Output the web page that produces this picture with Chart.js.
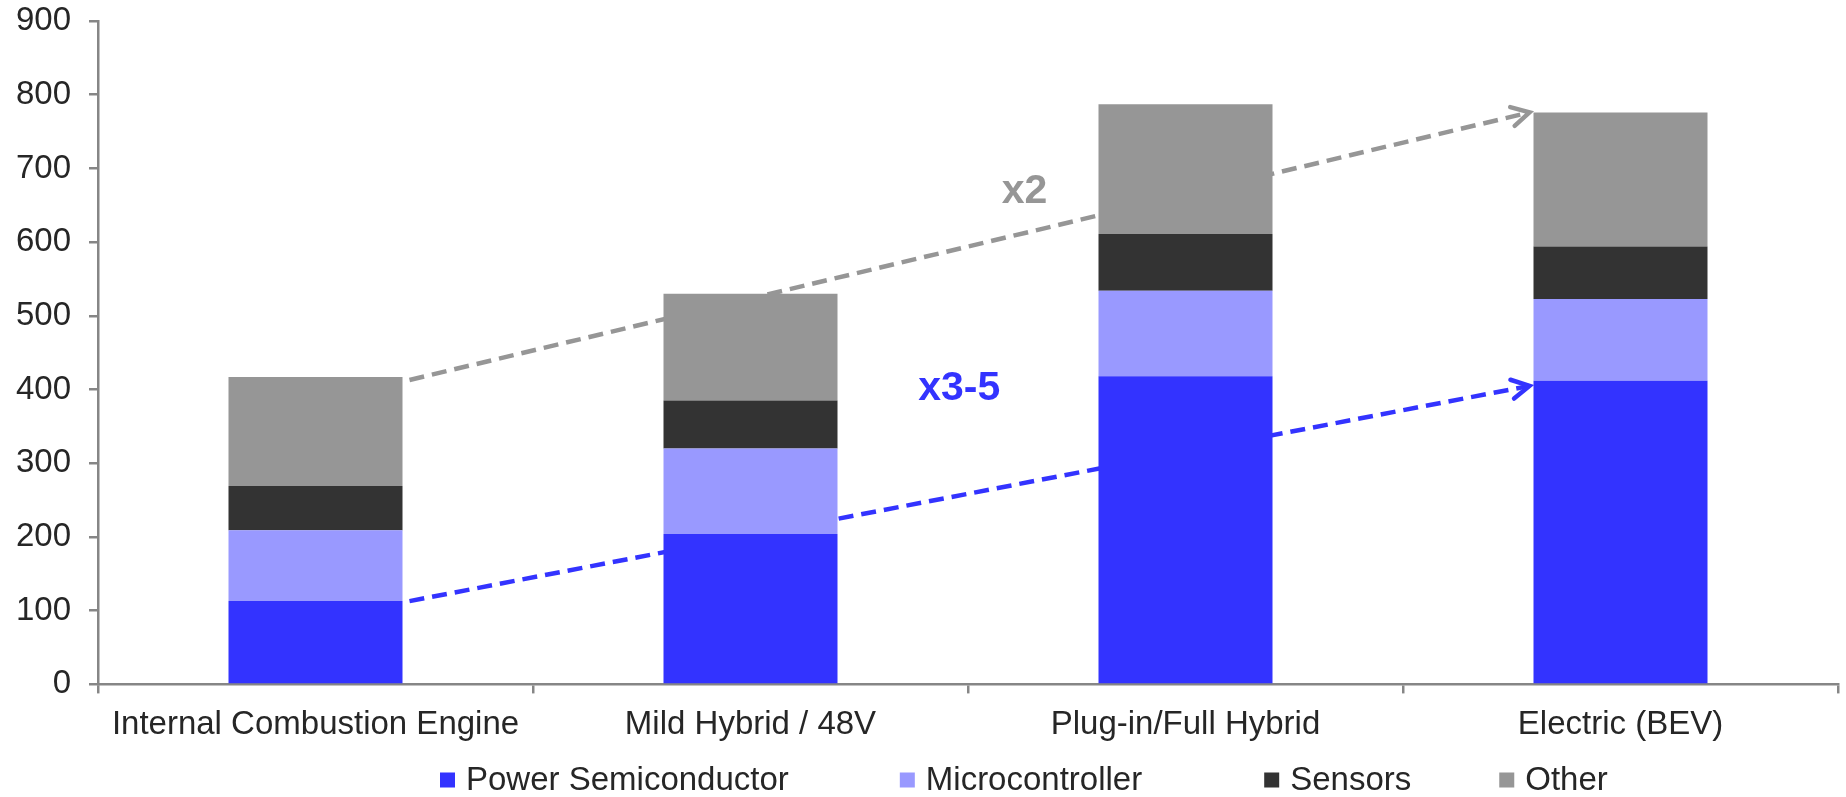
<!DOCTYPE html>
<html lang="en">
<head>
    <meta charset="UTF-8">
    <title>Semiconductor content per vehicle</title>
    <script src="https://cdn.jsdelivr.net/npm/chart.js@4.4.1/dist/chart.umd.min.js"></script>
    <style>
        body { margin: 0; background: #fff; }
        #wrap { width: 1846px; height: 797px; position: relative; }
    </style>
</head>
<body>
    <div id="wrap"><canvas id="chart"></canvas></div>

    <script>
        // values ($ per car, stacked)
        const categories = ['Internal Combustion Engine', 'Mild Hybrid / 48V', 'Plug-in/Full Hybrid', 'Electric (BEV)']
        const powerSemi = [113, 204, 418, 412]
        const microcontroller = [96, 116, 116, 111]
        const sensors = [60, 65, 77, 71]
        const other = [148, 145, 176, 182]
        const yTicks = [0, 100, 200, 300, 400, 500, 600, 700, 800, 900]

        // dashed growth arrows: value at ICE bar right edge -> value at BEV bar left edge
        const trendNames = ['x2', 'x3-5']
        const trendStart = [413, 113]
        const trendEnd = [776, 405]
        // where the "x2" / "x3-5" labels sit (category index, value)
        const noteX = [1.63, 1.48]
        const noteY = [668, 401]

        const FONT = "'Liberation Sans', Arial, sans-serif"
        const AXIS = '#868686'
        const trendColors = ['#969696', '#3333ff']

        // arrows go under the bars
        const trendPlugin = {
            id: 'trend',
            beforeDatasetsDraw(chart) {
                const ctx = chart.ctx
                const x = chart.scales.x, y = chart.scales.y
                const bar = chart.getDatasetMeta(0).data
                const half = bar[0].width / 2
                const last = categories.length - 1
                ctx.save()
                trendNames.forEach((name, i) => {
                    const x0 = x.getPixelForValue(0) + half + 7
                    const y0 = y.getPixelForValue(trendStart[i])
                    const x1 = x.getPixelForValue(last) - half - 4
                    const y1 = y.getPixelForValue(trendEnd[i])
                    ctx.strokeStyle = trendColors[i]
                    ctx.lineWidth = 4.5
                    ctx.setLineDash([15, 8])
                    ctx.beginPath()
                    ctx.moveTo(x0, y0)
                    ctx.lineTo(x1, y1)
                    ctx.stroke()
                    // open arrow head
                    const a = Math.atan2(y1 - y0, x1 - x0)
                    ctx.setLineDash([])
                    ctx.lineCap = 'round'
                    ctx.beginPath()
                    ctx.moveTo(x1 - 20 * Math.cos(a - 0.5), y1 - 20 * Math.sin(a - 0.5))
                    ctx.lineTo(x1, y1)
                    ctx.lineTo(x1 - 20 * Math.cos(a + 0.5), y1 - 20 * Math.sin(a + 0.5))
                    ctx.stroke()
                    ctx.lineCap = 'butt'
                })
                ctx.restore()
            },
            afterDatasetsDraw(chart) {
                const ctx = chart.ctx
                const x = chart.scales.x, y = chart.scales.y
                ctx.save()
                ctx.font = 'bold 41px ' + FONT
                ctx.textAlign = 'center'
                ctx.textBaseline = 'middle'
                trendNames.forEach((name, i) => {
                    ctx.fillStyle = trendColors[i]
                    ctx.fillText(name, x.getPixelForValue(noteX[i]), y.getPixelForValue(noteY[i]))
                })
                ctx.restore()
            }
        }

        // hand drawn legend so the (uneven) spacing matches the picture
        const legendPlugin = {
            id: 'bottomLegend',
            afterDraw(chart) {
                const ctx = chart.ctx
                const sets = chart.data.datasets
                const gaps = [111, 122, 88], box = 15, cy = 780
                ctx.save()
                ctx.font = '33px ' + FONT
                ctx.textBaseline = 'middle'
                let cx = 440
                sets.forEach((d, i) => {
                    ctx.fillStyle = d.backgroundColor
                    ctx.fillRect(cx, cy - box / 2, box, box)
                    ctx.fillStyle = '#262626'
                    ctx.fillText(d.label, cx + 26, cy + 1)
                    cx += 26 + ctx.measureText(d.label).width + (gaps[i] || 0)
                })
                ctx.restore()
            }
        }

        const ctx = document.getElementById('chart').getContext('2d')
        const myChart = new Chart(ctx, {
            type: 'bar',
            data: {
                labels: categories,
                datasets: [
                    { label: 'Power Semiconductor', data: powerSemi, backgroundColor: '#3333ff' },
                    { label: 'Microcontroller', data: microcontroller, backgroundColor: '#9999ff' },
                    { label: 'Sensors', data: sensors, backgroundColor: '#333333' },
                    { label: 'Other', data: other, backgroundColor: '#969696' }
                ]
            },
            options: {
                responsive: true,
                maintainAspectRatio: false,
                animation: false,
                layout: { padding: { top: 21, right: 8, bottom: 40, left: 0 } },
                datasets: { bar: { barPercentage: 0.4, categoryPercentage: 1 } },
                plugins: {
                    legend: { display: false },
                    tooltip: { enabled: false }
                },
                scales: {
                    x: {
                        stacked: true,
                        border: { color: AXIS, width: 2.5 },
                        grid: { offset: true, drawOnChartArea: false, color: AXIS, lineWidth: 2.5, tickLength: 9 },
                        ticks: { color: '#262626', padding: 12, maxRotation: 0, font: { family: FONT, size: 33 } }
                    },
                    y: {
                        stacked: true,
                        min: yTicks[0],
                        max: yTicks[yTicks.length - 1],
                        afterFit(scale) {
                            scale.width = 98
                            scale.paddingTop = 0
                            scale.paddingBottom = 0
                        },
                        afterBuildTicks(scale) { scale.ticks = yTicks.map(v => ({ value: v })) },
                        border: { color: AXIS, width: 2.5 },
                        grid: { drawOnChartArea: false, color: AXIS, lineWidth: 2.5, tickLength: 9 },
                        ticks: { color: '#262626', padding: 18, font: { family: FONT, size: 33 } }
                    }
                }
            },
            plugins: [trendPlugin, legendPlugin]
        })
    </script>
</body>
</html>
